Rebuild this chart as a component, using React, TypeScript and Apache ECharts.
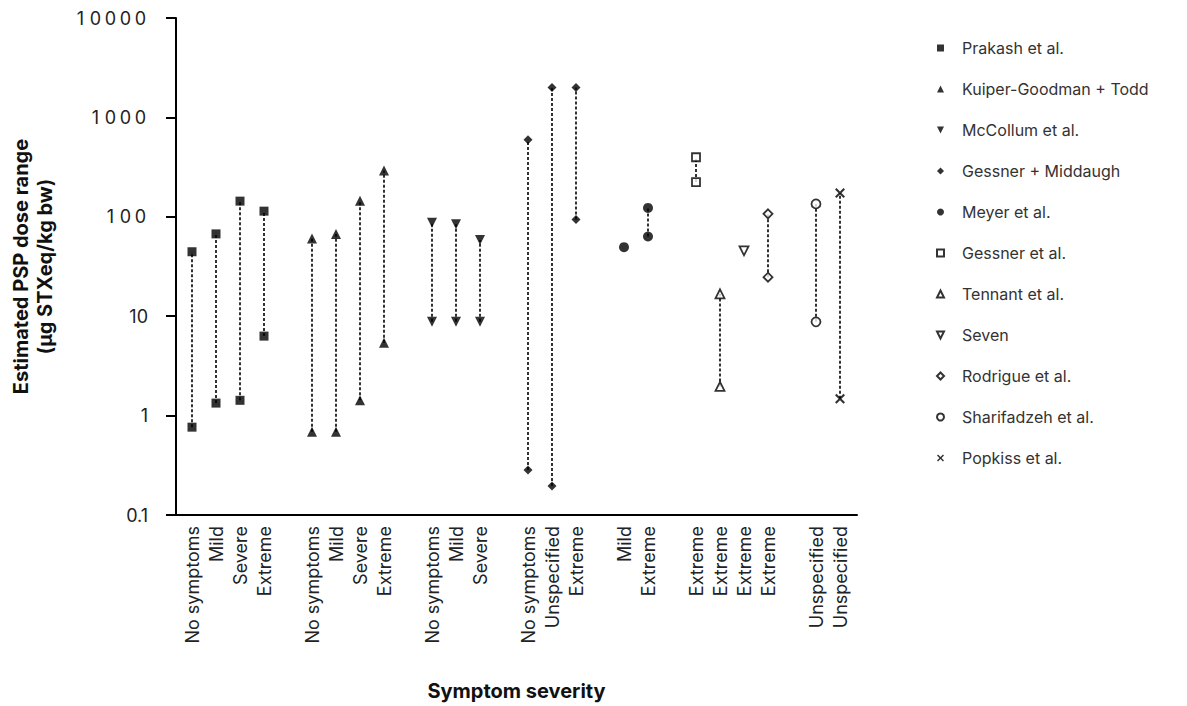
import React, { useEffect, useRef } from 'react';
import * as echarts from 'echarts';

// Category slots along the x axis ('' = gap between studies)
const categories = [
  'No symptoms', 'Mild', 'Severe', 'Extreme', '',
  'No symptoms', 'Mild', 'Severe', 'Extreme', '',
  'No symptoms', 'Mild', 'Severe', '',
  'No symptoms', 'Unspecified', 'Extreme', '',
  'Mild', 'Extreme', '',
  'Extreme', 'Extreme', 'Extreme', 'Extreme', '',
  'Unspecified', 'Unspecified',
];

const studies = [
  'Prakash et al.', 'Kuiper-Goodman + Todd', 'McCollum et al.', 'Gessner + Middaugh',
  'Meyer et al.', 'Gessner et al.', 'Tennant et al.', 'Seven', 'Rodrigue et al.',
  'Sharifadzeh et al.', 'Popkiss et al.',
];

// which study each category slot belongs to (-1 = gap)
const studyOfCategory = [
  0, 0, 0, 0, -1,
  1, 1, 1, 1, -1,
  2, 2, 2, -1,
  3, 3, 3, -1,
  4, 4, -1,
  5, 6, 7, 8, -1,
  9, 10,
];

// Low and high ends of the estimated dose range (µg STXeq/kg bw)
const lowValues = [
  0.78, 1.36, 1.45, 6.4, null,
  0.7, 0.7, 1.45, 5.5, null,
  8.9, 8.9, 8.9, null,
  0.29, 0.2, 95, null,
  50, 64, null,
  225, 2, 46, 25, null,
  8.9, 1.5,
];
const highValues = [
  45, 68, 145, 115, null,
  61, 68, 146, 295, null,
  88, 85, 59, null,
  600, 2000, 2000, null,
  50, 124, null,
  400, 17, 46, 108, null,
  136, 175,
];

const yTicks = [0.1, 1, 10, 100, 1000, 10000];

const TRI_DOWN = 'path://M0,0L10,0L5,10Z';
const CROSS = 'path://M0,1.5L1.5,0L5,3.5L8.5,0L10,1.5L6.5,5L10,8.5L8.5,10L5,6.5L1.5,10L0,8.5L3.5,5Z';
const symbols = ['rect', 'triangle', TRI_DOWN, 'diamond', 'circle', 'rect', 'triangle', TRI_DOWN, 'diamond', 'circle', CROSS];
const filled = [true, true, true, true, true, false, false, false, false, false, true];
const sizes = [9, 10, 10, 9, 10, 8, 9, 9, 9, 9, 10];

const FONT = 'Inter, "Liberation Sans", Arial, sans-serif';
const TEXT = '#222';

export default function App() {
  const ref = useRef<HTMLDivElement>(null);

  useEffect(() => {
    const chart = echarts.init(ref.current as HTMLDivElement, null, { renderer: 'svg' });

    const connectors: number[][] = [];
    categories.forEach((_, i) => {
      const lo = lowValues[i];
      const hi = highValues[i];
      if (lo != null && hi != null && lo !== hi) connectors.push([i, lo, hi]);
    });

    const scatterSeries = studies.map((name, s) => {
      const data: number[][] = [];
      categories.forEach((_, i) => {
        if (studyOfCategory[i] !== s) return;
        const lo = lowValues[i] as number;
        const hi = highValues[i] as number;
        data.push([i, lo]);
        if (hi !== lo) data.push([i, hi]);
      });
      return {
        name,
        type: 'scatter',
        xAxisIndex: 1,
        yAxisIndex: 1,
        symbol: symbols[s],
        symbolSize: sizes[s],
        itemStyle: filled[s]
          ? { color: '#000' }
          : { color: '#fff', borderColor: '#000', borderWidth: 1.8 },
        data,
        z: 3,
      };
    });

    const fmt = (v: number) => {
      let best = yTicks[0];
      yTicks.forEach((t) => {
        if (Math.abs(Math.log10(t) - Math.log10(v)) < Math.abs(Math.log10(best) - Math.log10(v))) best = t;
      });
      const s = String(best);
      if (best >= 100) return s.split('').map((c) => `{d|${c}}`).join('');
      return s;
    };

    chart.setOption({
      animation: false,
      grid: [
        { left: 176, top: 18, width: 681, height: 498 },
        { left: 180, top: 18, width: 672, height: 498 },
      ],
      legend: {
        orient: 'vertical',
        left: 931,
        top: 34,
        itemWidth: 7,
        itemHeight: 7,
        itemGap: 23,
        selectedMode: false,
        data: studies,
        textStyle: {
          fontSize: 16,
          lineHeight: 18,
          color: '#333',
          fontFamily: FONT,
          padding: [0, 0, 0, 13],
        },
      },
      xAxis: [
        {
          gridIndex: 0,
          type: 'value',
          min: 0,
          max: 1,
          axisLine: { show: true, onZero: false, lineStyle: { color: '#000', width: 2 } },
          axisTick: { show: false },
          axisLabel: { show: false },
          splitLine: { show: false },
          name: 'Symptom severity',
          nameLocation: 'middle',
          nameGap: 166,
          nameTextStyle: { fontSize: 20, fontWeight: 'bold', color: '#111', fontFamily: FONT },
        },
        {
          gridIndex: 1,
          type: 'category',
          data: categories,
          boundaryGap: true,
          axisLine: { show: false },
          axisTick: { show: false },
          splitLine: { show: false },
          axisLabel: {
            interval: 0,
            rotate: 90,
            margin: 10,
            fontSize: 18,
            color: TEXT,
            fontFamily: FONT,
          },
        },
      ],
      yAxis: [
        {
          gridIndex: 0,
          type: 'log',
          logBase: 10,
          min: 0.1,
          max: 10000,
          axisLine: { show: true, lineStyle: { color: '#000', width: 2 } },
          axisTick: { show: true, length: 10, lineStyle: { color: '#000', width: 2 } },
          splitLine: { show: false },
          axisLabel: {
            margin: 28,
            fontSize: 18,
            color: TEXT,
            fontFamily: FONT,
            formatter: fmt,
            rich: {
              d: { width: 15, align: 'center', fontSize: 18, color: TEXT, fontFamily: FONT },
            },
          },
          name: 'Estimated PSP dose range\n(µg STXeq/kg bw)',
          nameLocation: 'middle',
          nameRotate: 90,
          nameGap: 119,
          nameTextStyle: { fontSize: 20, fontWeight: 'bold', lineHeight: 24, color: '#111', fontFamily: FONT },
        },
        {
          gridIndex: 1,
          type: 'log',
          logBase: 10,
          min: 0.1,
          max: 10000,
          show: false,
        },
      ],
      series: [
        {
          type: 'custom',
          xAxisIndex: 1,
          yAxisIndex: 1,
          silent: true,
          z: 1,
          data: connectors,
          encode: { x: 0, y: [1, 2] },
          renderItem: (params: any, api: any) => {
            const x = api.value(0);
            const p1 = api.coord([x, api.value(1)]);
            const p2 = api.coord([x, api.value(2)]);
            return {
              type: 'line',
              shape: { x1: p1[0], y1: p1[1], x2: p2[0], y2: p2[1] },
              style: { stroke: '#000', lineWidth: 1.6, lineDash: [3, 2] },
            };
          },
        },
        ...scatterSeries,
      ],
    });

    return () => chart.dispose();
  }, []);

  return (
    <div
      ref={ref}
      style={{ position: 'fixed', left: 0, top: 0, width: 1187, height: 706, background: '#fff' }}
    />
  );
}
